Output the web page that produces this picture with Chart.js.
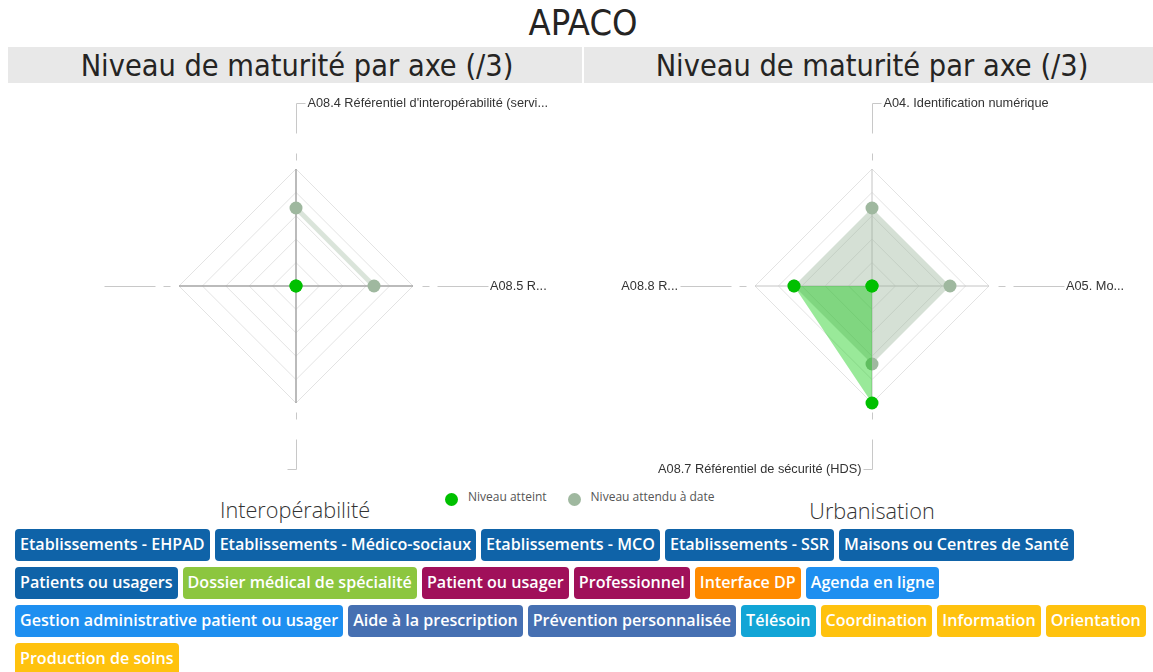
<!DOCTYPE html>
<html>
<head>
<meta charset="utf-8">
<script src="https://cdn.jsdelivr.net/npm/chart.js@4.4.0/dist/chart.umd.min.js"></script>
<style>
  body { margin: 0; width: 1153px; height: 672px; background: #fff; position: relative; overflow: hidden; font-family: "Open Sans", sans-serif; }
  .abs { position: absolute; }
  #mainTitle { left: 0; width: 1166px; top: 2px; text-align: center; font: 36px "Liberation Sans Narrow", "DejaVu Sans Condensed", sans-serif; color: #252423; }
  .bar { top: 47px; height: 36px; background: #e8e8e8; }
  .subTitle { top: 48px; height: 36px; line-height: 40px; text-align: center; font: 30.4px "Liberation Sans Narrow", "DejaVu Sans Condensed", sans-serif; color: #252423; }
  .axeName { top: 495px; font-size: 21.7px; font-weight: 300; color: #333; text-align: center; }
  #legend { left: 445px; top: 488px; font-size: 12px; color: #555; display: flex; align-items: center; }
  #legend span.dot { width: 13px; height: 13px; border-radius: 50%; display: inline-block; margin-right: 10px; position: relative; top: 3px; }
  #legend span.txt { margin-right: 21px; }
  #tags { left: 15px; top: 529px; }
  .row { display: flex; gap: 5px; margin-bottom: 6px; }
  .tag { height: 32px; line-height: 31px; padding: 0 5px; border-radius: 4px; color: #fff; font-size: 16.1px; font-weight: 600; white-space: nowrap; }
</style>
</head>
<body>
<div id="mainTitle" class="abs">APACO</div>
<div class="abs bar" style="left:8px;width:574px"></div>
<div class="abs bar" style="left:584px;width:569px"></div>
<div class="abs subTitle" style="left:8px;width:578px">Niveau de maturité par axe (/3)</div>
<div class="abs subTitle" style="left:584px;width:576px">Niveau de maturité par axe (/3)</div>

<canvas id="interop" class="abs" style="left:0;top:90px" width="592" height="392"></canvas>
<canvas id="urba" class="abs" style="left:600px;top:90px" width="544" height="392"></canvas>

<div class="abs axeName" style="left:195px;width:200px">Interopérabilité</div>
<div class="abs axeName" style="left:772px;width:200px;top:496px">Urbanisation</div>
<div id="legend" class="abs"></div>
<div id="tags" class="abs"></div>

<script>
// Radar data (values /3)
const scaleMax = 3;
const seriesNames = ['Niveau atteint', 'Niveau attendu à date'];
const seriesColors = ['#00c000', '#9fb89f'];

const interopLabels = ["A08.4 Référentiel d'interopérabilité (servi...", 'A08.5 R...', '', ''];
const interopAtteint = [0, 0, null, null];
const interopAttendu = [2, 2, null, null];

const urbaLabels = ['A04. Identification numérique', 'A05. Mo...', 'A08.7 Référentiel de sécurité (HDS)', 'A08.8 R...'];
const urbaAtteint = [0, 0, 3, 2];
const urbaAttendu = [2, 2, 2, 2];

// Tag rows
const tagRows = [
    [['Etablissements - EHPAD', '#0f63a8'], ['Etablissements - Médico-sociaux', '#0f63a8'], ['Etablissements - MCO', '#0f63a8'], ['Etablissements - SSR', '#0f63a8'], ['Maisons ou Centres de Santé', '#0f63a8']],
    [['Patients ou usagers', '#0f63a8'], ['Dossier médical de spécialité', '#8cc63f'], ['Patient ou usager', '#a0105a'], ['Professionnel', '#a0105a'], ['Interface DP', '#ff8a00'], ['Agenda en ligne', '#1e8ff0']],
    [['Gestion administrative patient ou usager', '#1e8ff0'], ['Aide à la prescription', '#4670b2'], ['Prévention personnalisée', '#4670b2'], ['Télésoin', '#12a5d6'], ['Coordination', '#ffc20e'], ['Information', '#ffc20e'], ['Orientation', '#ffc20e']],
    [['Production de soins', '#ffc20e']]
];

// Leader lines + axis labels drawn outside the grid
const leaderPlugin = {
    id: 'leaders',
    afterDraw(chart) {
        const r = chart.scales.r;
        const R = r.drawingArea;
        const ctx = chart.ctx;
        ctx.save();
        ctx.strokeStyle = '#c8c8c8';
        ctx.lineWidth = 1;
        ctx.font = '12.75px "Liberation Sans", Arial, sans-serif';
        ctx.fillStyle = '#333';
        ctx.textBaseline = 'middle';

        const pt = (i, d) => {
            const p = r.getPointPosition(i, d);
            return { x: Math.round(p.x) + 0.5, y: Math.round(p.y) + 0.5 };
        };
        const seg = (i, a, b) => {
            const p = pt(i, a), q = pt(i, b);
            ctx.beginPath();
            ctx.moveTo(p.x, p.y);
            ctx.lineTo(q.x, q.y);
            ctx.stroke();
            return q;
        };

        chart.data.labels.forEach((lab, i) => {
            const vertical = i % 2 === 0;
            if (vertical) {
                seg(i, R + 9, R + 16);
                const end = seg(i, R + 36, R + 66);
                const dir = i === 0 ? 1 : -1;
                ctx.beginPath();
                ctx.moveTo(end.x, end.y);
                ctx.lineTo(end.x + dir * 9, end.y);
                ctx.stroke();
                if (lab) {
                    ctx.textAlign = dir > 0 ? 'left' : 'right';
                    ctx.fillText(lab, end.x + dir * 11, end.y);
                }
            } else {
                seg(i, R + 9, R + 16);
                seg(i, R + 24, R + 75);
                if (lab) {
                    const p = r.getPointPosition(i, R + 77);
                    ctx.textAlign = i === 1 ? 'left' : 'right';
                    ctx.fillText(lab, p.x, p.y);
                }
            }
        });
        ctx.restore();
    }
};

function makeRadar(id, labels, atteint, attendu, opts) {
    new Chart(document.getElementById(id), {
        type: 'radar',
        data: {
            labels: labels,
            datasets: [{
                label: seriesNames[0],
                data: atteint,
                backgroundColor: 'rgba(0, 200, 0, 0.4)',
                borderWidth: 0,
                fill: true,
                pointBackgroundColor: seriesColors[0],
                pointBorderWidth: 0,
                pointRadius: 6.5
            }, {
                label: seriesNames[1],
                data: attendu,
                backgroundColor: 'rgba(150, 178, 150, 0.4)',
                borderColor: opts.lineOnly ? 'rgba(150, 178, 150, 0.35)' : 'transparent',
                borderWidth: opts.lineOnly ? 5 : 0,
                fill: !opts.lineOnly,
                pointBackgroundColor: seriesColors[1],
                pointBorderWidth: 0,
                pointRadius: 6.5
            }]
        },
        options: {
            responsive: false,
            animation: false,
            spanGaps: false,
            layout: { padding: { top: 79, bottom: 79, left: 20, right: 20 } },
            plugins: {
                legend: { display: false },
                tooltip: { enabled: false }
            },
            elements: { line: { tension: 0 } },
            scales: {
                r: {
                    min: 0,
                    max: scaleMax,
                    ticks: { display: false, count: 6 },
                    grid: { color: '#e3e3e3' },
                    angleLines: { color: opts.axisColor, lineWidth: opts.axisWidth },
                    pointLabels: { display: false }
                }
            }
        },
        plugins: [leaderPlugin]
    });
}

makeRadar('interop', interopLabels, interopAtteint, interopAttendu, { lineOnly: true, axisColor: '#a4a4a4', axisWidth: 1.5 });
makeRadar('urba', urbaLabels, urbaAtteint, urbaAttendu, { lineOnly: false, axisColor: '#c4c4c4', axisWidth: 1 });

// Legend
const legend = document.getElementById('legend');
seriesNames.forEach((name, i) => {
    legend.innerHTML += '<span class="dot" style="background:' + seriesColors[i] + '"></span><span class="txt">' + name + '</span>';
});

// Tags
const tags = document.getElementById('tags');
tagRows.forEach(row => {
    const div = document.createElement('div');
    div.className = 'row';
    row.forEach(([text, color]) => {
        const t = document.createElement('div');
        t.className = 'tag';
        t.style.background = color;
        t.textContent = text;
        div.appendChild(t);
    });
    tags.appendChild(div);
});
</script>
</body>
</html>
